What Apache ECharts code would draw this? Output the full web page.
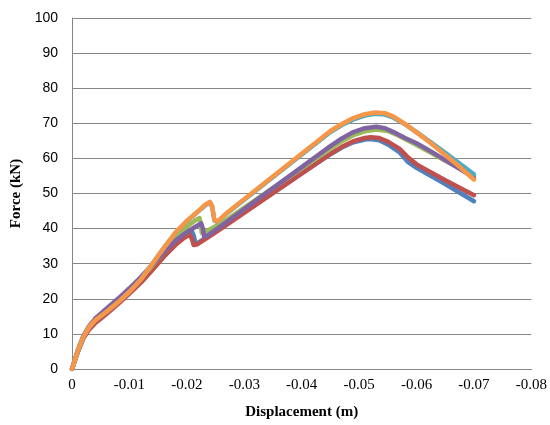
<!DOCTYPE html>
<html>
<head>
<meta charset="utf-8">
<script src="https://cdn.jsdelivr.net/npm/echarts@6/dist/echarts.min.js"></script>
<style>html,body{margin:0;padding:0;background:#fff}#c{width:550px;height:425px}</style>
</head>
<body>
<div id="c"></div>
<script>
var seriesNames = ['Series 1', 'Series 2', 'Series 3', 'Series 4', 'Series 5', 'Series 6'];
var seriesColors = ['#4F81BD', '#C0504D', '#9BBB59', '#8064A2', '#4BACC6', '#F79646'];

var blue = [[0,0],[-0.001,4.9],[-0.002,8.9],[-0.003,11.5],[-0.004,13.2],[-0.006,15.9],[-0.008,18.7],[-0.01,21.7],[-0.012,24.8],[-0.014,28.5],[-0.016,32.3],[-0.018,35.7],[-0.0198,38.5],[-0.0208,39.5],[-0.0212,38],[-0.0215,35.8],[-0.022,36],[-0.025,39.2],[-0.045,61.2],[-0.047,63.1],[-0.049,64.6],[-0.051,65.4],[-0.052,65.5],[-0.0535,65.2],[-0.055,64],[-0.057,61.8],[-0.0585,59],[-0.06,57.3],[-0.065,52.7],[-0.07,47.8]];
var red = [[0,0],[-0.001,4.8],[-0.002,8.8],[-0.003,11.3],[-0.004,13],[-0.006,15.7],[-0.008,18.5],[-0.01,21.5],[-0.012,24.6],[-0.014,28.2],[-0.016,32],[-0.018,35.3],[-0.0195,37.3],[-0.0205,38.3],[-0.0209,37],[-0.0212,35.3],[-0.0218,35.5],[-0.025,38.9],[-0.045,61.3],[-0.047,63.3],[-0.049,64.9],[-0.051,65.8],[-0.052,66],[-0.0535,65.8],[-0.055,64.8],[-0.057,62.8],[-0.0585,60.3],[-0.06,58.3],[-0.065,53.8],[-0.07,49.5]];
var green = [[0,0],[-0.001,5],[-0.002,9.2],[-0.003,12],[-0.004,13.8],[-0.006,16.5],[-0.008,19.5],[-0.01,22.5],[-0.012,25.8],[-0.014,29.5],[-0.016,33.3],[-0.018,37],[-0.02,40.5],[-0.0215,42.4],[-0.0222,43],[-0.0224,41.5],[-0.0226,38.8],[-0.023,38.9],[-0.026,41.5],[-0.045,62.8],[-0.047,64.9],[-0.049,66.6],[-0.051,67.7],[-0.053,68.2],[-0.055,67.8],[-0.057,66.4],[-0.06,63.8],[-0.0625,61.6],[-0.065,59.3],[-0.0675,57.2],[-0.07,55]];
var purple = [[0,0],[-0.001,5.3],[-0.002,9.5],[-0.003,12.3],[-0.004,14.3],[-0.006,17.2],[-0.008,20],[-0.01,23],[-0.012,26.2],[-0.014,29.8],[-0.016,33.3],[-0.018,36.5],[-0.02,39],[-0.0218,40.8],[-0.0225,41.5],[-0.0228,40],[-0.023,37.8],[-0.0235,37.9],[-0.026,40.8],[-0.045,63.5],[-0.047,65.7],[-0.049,67.5],[-0.051,68.6],[-0.053,69],[-0.0545,68.6],[-0.056,67.5],[-0.058,65.8],[-0.06,64.3],[-0.0625,62],[-0.065,59.5],[-0.0675,57],[-0.07,54.5]];
var teal = [[0,0],[-0.001,5.2],[-0.002,9.2],[-0.003,12],[-0.004,13.8],[-0.006,16.3],[-0.008,19],[-0.01,22],[-0.012,25.5],[-0.014,30],[-0.016,34.5],[-0.018,38.7],[-0.02,42.1],[-0.022,44.9],[-0.0232,46.6],[-0.024,47.4],[-0.0244,46.3],[-0.0248,42.3],[-0.0253,41.9],[-0.027,44.4],[-0.045,67.5],[-0.047,69.5],[-0.049,71.1],[-0.051,72.2],[-0.0528,72.7],[-0.0545,72.5],[-0.056,71.6],[-0.058,69.7],[-0.06,67.5],[-0.0625,64.6],[-0.065,61.6],[-0.0675,58.5],[-0.07,55.5]];
var orange = [[0,0],[-0.001,5.2],[-0.002,9.2],[-0.003,12],[-0.004,13.8],[-0.006,16.3],[-0.008,19],[-0.01,22],[-0.012,25.5],[-0.014,30],[-0.016,34.5],[-0.018,38.8],[-0.02,42.2],[-0.022,45],[-0.0232,46.8],[-0.024,47.6],[-0.0244,46.5],[-0.0248,42.5],[-0.0253,42],[-0.027,44.5],[-0.045,67.8],[-0.047,69.8],[-0.049,71.5],[-0.051,72.6],[-0.0528,73.1],[-0.0545,72.9],[-0.056,71.9],[-0.058,69.8],[-0.06,67.4],[-0.0625,64.3],[-0.065,61],[-0.0675,57.6],[-0.07,54]];

var allData = [blue, red, green, purple, teal, orange];

var chart = echarts.init(document.getElementById('c'), null, {renderer: 'canvas'});
var series = allData.map(function (d, i) {
  return {
    name: seriesNames[i],
    type: 'line',
    data: d,
    showSymbol: false,
    smooth: false,
    lineStyle: {color: seriesColors[i], width: 4.5, cap: 'round', join: 'round'},
    itemStyle: {color: seriesColors[i]},
    silent: true
  };
});

chart.setOption({
  animation: false,
  backgroundColor: '#ffffff',
  grid: {left: 72, right: 17, top: 18, bottom: 56},
  xAxis: {
    type: 'value',
    min: -0.08, max: 0, interval: 0.01,
    inverse: true,
    name: 'Displacement (m)',
    nameLocation: 'middle',
    nameGap: 36,
    nameTextStyle: {fontFamily: 'Liberation Serif', fontWeight: 'bold', fontSize: 15, color: '#000'},
    axisLine: {show: true, lineStyle: {color: '#868686', width: 1}},
    axisTick: {show: false},
    splitLine: {show: false},
    axisLabel: {
      fontFamily: 'Liberation Serif', fontSize: 15, color: '#000', margin: 9,
      formatter: function (v) { return v === 0 ? '0' : (Math.round(v * 100) / 100).toString(); }
    }
  },
  yAxis: {
    type: 'value',
    min: 0, max: 100, interval: 10,
    name: 'Force (kN)',
    nameLocation: 'middle',
    nameGap: 46,
    nameTextStyle: {fontFamily: 'Liberation Serif', fontWeight: 'bold', fontSize: 15, color: '#000'},
    axisLine: {show: true, lineStyle: {color: '#868686', width: 1}},
    axisTick: {show: false},
    splitLine: {show: true, lineStyle: {color: '#868686', width: 1}},
    axisLabel: {fontFamily: 'Liberation Sans', fontSize: 14, color: '#000', margin: 14}
  },
  series: series
});
</script>
</body>
</html>
